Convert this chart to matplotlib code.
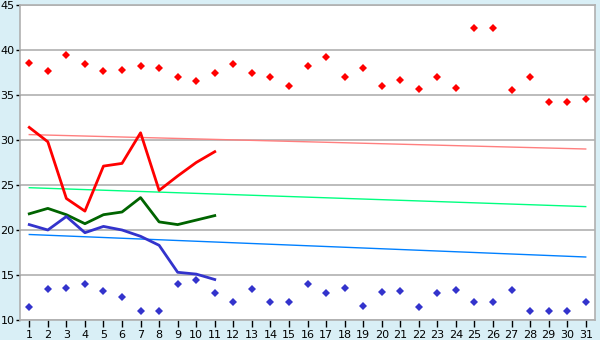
import matplotlib
matplotlib.use("Agg")
import matplotlib.pyplot as plt
import numpy as np

# days of the month
days = list(range(1, 32))
days_line = list(range(1, 12))

# scattered daily values (upper = red, lower = blue)
upper_pts = [38.6, 37.7, 39.4, 38.4, 37.7, 37.8, 38.2, 38.0, 37.0, 36.6, 37.5,
             38.5, 37.5, 37.0, 36.0, 38.2, 39.2, 37.0, 38.0, 36.0, 36.7,
             35.7, 37.0, 35.8, 42.4, 42.4, 35.6, 37.0, 34.2, 34.2, 34.6]
lower_pts = [11.5, 13.5, 13.6, 14.0, 13.2, 12.6, 11.0, 11.0, 14.0, 14.5, 13.0,
             12.0, 13.5, 12.0, 12.0, 14.0, 13.0, 13.6, 11.6, 13.1, 13.2,
             11.5, 13.0, 13.3, 12.0, 12.0, 13.3, 11.0, 11.0, 11.0, 12.0]

# measured lines for the first 11 days
red_line = [31.4, 29.8, 23.5, 22.1, 27.1, 27.4, 30.8, 24.4, 26.0, 27.5, 28.7]
green_line = [21.8, 22.4, 21.7, 20.7, 21.7, 22.0, 23.6, 20.9, 20.6, 21.1, 21.6]
blue_line = [20.6, 20.0, 21.5, 19.7, 20.4, 20.0, 19.3, 18.3, 15.3, 15.1, 14.5]

# trend lines: value at day 1 and at day 31
trend_red = [30.6, 29.0]
trend_green = [24.7, 22.6]
trend_blue = [19.5, 17.0]

bg = "#d9eff6"
grid_col = "#b0b0b0"

fig = plt.figure(figsize=(6, 3.4), dpi=100, facecolor=bg)
ax = fig.add_axes([20 / 600, 20 / 340, 575 / 600, 315 / 340])
ax.set_facecolor("white")

ends = [days[0], days[-1]]
ax.plot(ends, trend_red, color="#ff7f7f", linewidth=1)
ax.plot(ends, trend_green, color="#00ff80", linewidth=1)
ax.plot(ends, trend_blue, color="#0080ff", linewidth=1)

ax.plot(days_line, red_line, color="#ff0000", linewidth=2)
ax.plot(days_line, green_line, color="#006400", linewidth=2)
ax.plot(days_line, blue_line, color="#3333cc", linewidth=2)

ax.plot(days, upper_pts, linestyle="none", marker="D", markersize=4,
        color="#ff0000", markeredgewidth=0)
ax.plot(days, lower_pts, linestyle="none", marker="D", markersize=4,
        color="#3333cc", markeredgewidth=0)

ax.set_xlim(0.5, 31.5)
ax.set_ylim(10, 45)
ax.set_xticks(days)
ax.set_yticks(np.arange(10, 46, 5))
ax.yaxis.grid(True, color=grid_col, linewidth=1.2)
ax.set_axisbelow(True)

for side in ["left", "bottom", "right", "top"]:
    ax.spines[side].set_color(grid_col)
    ax.spines[side].set_linewidth(1.2)

ax.tick_params(axis="x", length=5, width=1, color="black", labelsize=8, pad=2)
ax.tick_params(axis="y", length=3, width=1, color="black", labelsize=8, pad=1)

fig.savefig("out.png", dpi=100, facecolor=bg)
